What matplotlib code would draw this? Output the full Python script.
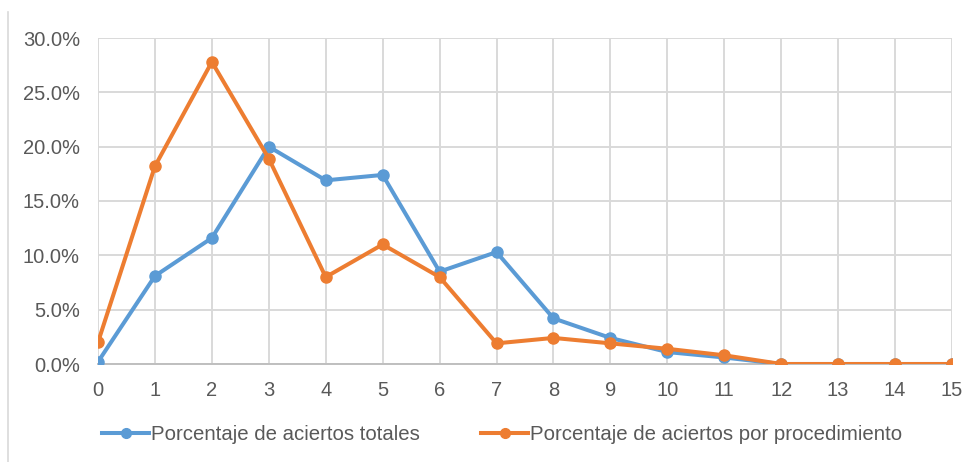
import matplotlib.pyplot as plt
from matplotlib.lines import Line2D
from matplotlib.ticker import PercentFormatter

x = list(range(16))
totales = [0.2, 8.1, 11.6, 20.0, 16.9, 17.4, 8.5, 10.3, 4.2, 2.4, 1.1, 0.6, 0, 0, 0, 0]
procedimiento = [2.0, 18.2, 27.8, 18.9, 8.0, 11.0, 8.0, 1.9, 2.4, 1.9, 1.4, 0.8, 0, 0, 0, 0]
labels = ['Porcentaje de aciertos totales', 'Porcentaje de aciertos por procedimiento']

plt.rcParams['font.family'] = ['Liberation Sans', 'DejaVu Sans']
txt = '#595959'
grid = '#d9d9d9'

fig = plt.figure(figsize=(9.79, 4.62), dpi=100)
ax = fig.add_axes([98/979, 1 - 364/462, (952-98)/979, (364-38)/462])

ax.plot(x, totales, color='#5b9bd5', lw=2.9, marker='o', ms=8, label=labels[0], zorder=3)
ax.plot(x, procedimiento, color='#ed7d31', lw=2.9, marker='o', ms=8, label=labels[1], zorder=4)

ax.set_xlim(0, 15)
ax.set_ylim(0, 30)
ax.set_xticks(x)
ax.set_yticks(range(0, 31, 5))
ax.yaxis.set_major_formatter(PercentFormatter(decimals=1))
ax.grid(True, color=grid, lw=1.4)
for s in ['top', 'right', 'left']:
    ax.spines[s].set_visible(False)
ax.spines['bottom'].set_color('#bfbfbf')
ax.spines['bottom'].set_linewidth(1.4)
ax.tick_params(length=0, labelsize=14.5, colors=txt)
ax.tick_params(axis='x', pad=12)
ax.tick_params(axis='y', pad=13)

handles = [Line2D([], [], color='#5b9bd5', lw=2.9, marker='o', ms=7),
           Line2D([], [], color='#ed7d31', lw=2.9, marker='o', ms=7)]
leg = fig.legend(handles, labels, loc='center', bbox_to_anchor=(0.513, 1 - 435/462),
                 ncol=2, frameon=False, fontsize=14.7, handlelength=2.3,
                 handletextpad=0.1, columnspacing=3.0)
for t in leg.get_texts():
    t.set_color(txt)

fig.add_artist(Line2D([8/979, 8/979], [0, 1 - 12/462], color=grid, lw=1.2))

fig.savefig('out.png', dpi=100)
